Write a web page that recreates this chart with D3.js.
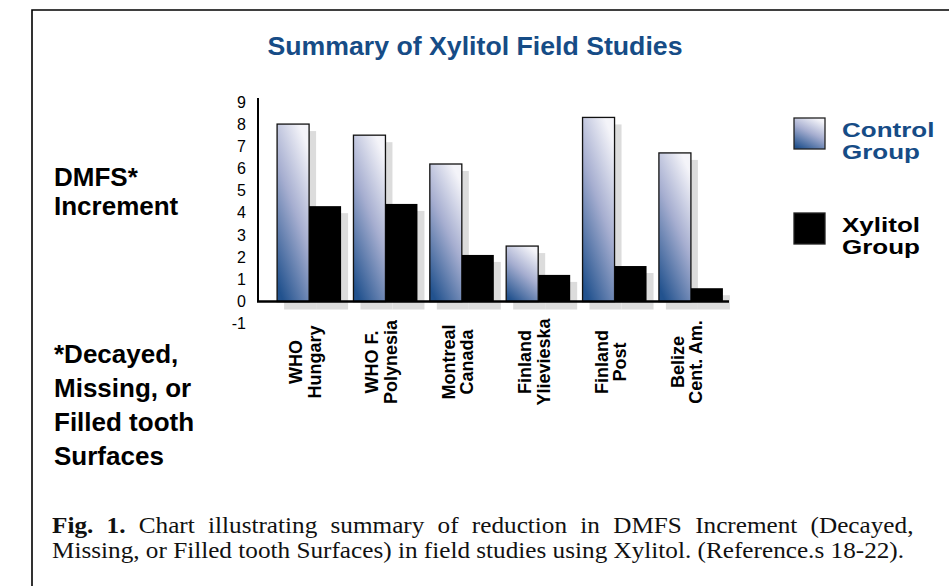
<!DOCTYPE html>
<html>
<head>
<meta charset="utf-8">
<script src="https://cdn.jsdelivr.net/npm/d3@7"></script>
<style>
body { margin: 0; background: #fff; }
#chart { position: relative; width: 949px; height: 586px; overflow: hidden; }
#caption {
    position: absolute; left: 52px; top: 513px; width: 786px;
    transform: scale(1.096, 1); transform-origin: 0 0;
    font-family: "Liberation Serif", "Times New Roman", serif;
    font-size: 23px; line-height: 25px; color: #111;
}
#caption .l1 { text-align: justify; text-align-last: justify; white-space: nowrap; }
#caption .l2 { text-align: left; white-space: nowrap; }
</style>
</head>
<body>
<div id="chart"></div>
<script>
// values
var studies = ["WHO Hungary", "WHO F. Polynesia", "Montreal Canada", "Finland Ylievieska", "Finland Post", "Belize Cent. Am."];
var studyLines = [["WHO", "Hungary"], ["WHO F.", "Polynesia"], ["Montreal", "Canada"], ["Finland", "Ylievieska"], ["Finland", "Post"], ["Belize", "Cent. Am."]];
var controlValues = [8.0, 7.5, 6.2, 2.5, 8.3, 6.7];
var xylitolValues = [4.3, 4.4, 2.1, 1.2, 1.6, 0.6];
var groups = ["control", "xylitol"];
var yTicks = [-1, 0, 1, 2, 3, 4, 5, 6, 7, 8, 9];
var legendItems = [["Control", "Group"], ["Xylitol", "Group"]];
var leftNote1 = ["DMFS*", "Increment"];
var leftNote2 = ["*Decayed,", "Missing, or", "Filled tooth", "Surfaces"];
var captionLine1 = "Chart illustrating summary of reduction in DMFS Increment (Decayed,";
var captionLine2 = "Missing, or Filled tooth Surfaces) in field studies using Xylitol. (Reference.s 18-22).";

var w = 949;
var h = 586;
var blue = "#164c86";

var svg = d3.select("div#chart")
    .append("svg")
    .attr("width", w)
    .attr("height", h)
    .style("position", "absolute")
    .style("left", 0)
    .style("top", 0);

svg.append("rect").attr("width", w).attr("height", h).attr("fill", "#fff");

// frame (left + top edge of the figure box)
svg.append("path")
    .attr("d", "M32," + h + "V10H" + w)
    .attr("fill", "none")
    .attr("stroke", "#000")
    .attr("stroke-width", 1.6);

var defs = svg.append("defs");
var grad = defs.append("linearGradient")
    .attr("id", "ctrlGrad")
    .attr("x1", 0.7).attr("y1", 0)
    .attr("x2", 0.2).attr("y2", 1);
grad.append("stop").attr("offset", "0%").attr("stop-color", "#f4f4f9");
grad.append("stop").attr("offset", "45%").attr("stop-color", "#a6aed0");
grad.append("stop").attr("offset", "100%").attr("stop-color", "#22528e");

var y = d3.scaleLinear().domain([-1, 9]).range([323.7, 101.9]);

var x0 = d3.scaleBand()
    .domain(studies)
    .range([258, 742])
    .paddingInner(0.162)
    .paddingOuter(0.25);

var x1 = d3.scaleBand()
    .domain(groups)
    .range([0, x0.bandwidth()]);

var rows = studies.map(function(s, i){
    return {study: s, lines: studyLines[i], vals: [
        {g: "control", v: controlValues[i]},
        {g: "xylitol", v: xylitolValues[i]}
    ]};
});

// title
svg.append("text")
    .attr("x", 475)
    .attr("y", 55)
    .attr("text-anchor", "middle")
    .attr("textLength", 415)
    .attr("lengthAdjust", "spacingAndGlyphs")
    .style("font-family", "Arial, 'Liberation Sans', sans-serif")
    .style("font-weight", "bold")
    .style("font-size", "25.5px")
    .attr("fill", blue)
    .text("Summary of Xylitol Field Studies");

var groupSel = svg.selectAll("g.study")
    .data(rows)
    .enter()
    .append("g")
    .attr("class", "study")
    .attr("transform", function(d){ return "translate(" + x0(d.study) + ",0)"; });

// drop shadows
groupSel.selectAll("rect.shadow")
    .data(function(d){ return d.vals; })
    .enter()
    .append("rect")
    .attr("class", "shadow")
    .attr("x", function(d){ return x1(d.g) + 7; })
    .attr("y", function(d){ return y(d.v) + 7; })
    .attr("width", x1.bandwidth())
    .attr("height", function(d){ return y(0) - y(d.v) + 1; })
    .attr("fill", "#dcdcdc");

// bars
groupSel.selectAll("rect.bar")
    .data(function(d){ return d.vals; })
    .enter()
    .append("rect")
    .attr("class", "bar")
    .attr("x", function(d){ return x1(d.g); })
    .attr("y", function(d){ return y(d.v); })
    .attr("width", x1.bandwidth())
    .attr("height", function(d){ return y(0) - y(d.v); })
    .attr("fill", function(d){ return d.g == "control" ? "url(#ctrlGrad)" : "#000"; })
    .attr("stroke", function(d){ return d.g == "control" ? "#111" : "none"; })
    .attr("stroke-width", 1.3);

// y axis (plain hyphen for -1, like the original)
var yAxis = d3.axisLeft(y)
    .tickValues(yTicks)
    .tickSize(0)
    .tickPadding(12)
    .tickFormat(function(d){ return String(d); });
var yg = svg.append("g")
    .attr("transform", "translate(258,0)")
    .call(yAxis);
yg.select(".domain").remove();
yg.selectAll("text")
    .style("font-family", "Arial, 'Liberation Sans', sans-serif")
    .style("font-size", "16px")
    .attr("fill", "#000");

svg.append("line")
    .attr("x1", 258).attr("x2", 258)
    .attr("y1", y(9) - 4).attr("y2", y(0))
    .attr("stroke", "#000").attr("stroke-width", 2);

svg.append("line")
    .attr("x1", 257).attr("x2", 729)
    .attr("y1", y(0)).attr("y2", y(0))
    .attr("stroke", "#000").attr("stroke-width", 2.4);

// category labels, rotated
var catLabel = svg.selectAll("text.cat")
    .data(rows)
    .enter()
    .append("text")
    .attr("class", "cat")
    .attr("transform", function(d){
        return "translate(" + (x0(d.study) + x0.bandwidth() / 2) + ",362) rotate(-90)";
    })
    .attr("text-anchor", "middle")
    .style("font-family", "Arial, 'Liberation Sans', sans-serif")
    .style("font-weight", "bold")
    .style("font-size", "18px");

catLabel.selectAll("tspan")
    .data(function(d){ return d.lines; })
    .enter()
    .append("tspan")
    .attr("x", 0)
    .attr("y", function(d, i){ return i == 0 ? -7 : 11.5; })
    .text(function(d){ return d; });

// left notes
svg.selectAll("text.note1")
    .data(leftNote1)
    .enter()
    .append("text")
    .attr("class", "note1")
    .attr("x", 54)
    .attr("y", function(d, i){ return 186 + i * 29; })
    .style("font-family", "Arial, 'Liberation Sans', sans-serif")
    .style("font-weight", "bold")
    .style("font-size", "26px")
    .text(function(d){ return d; });

svg.selectAll("text.note2")
    .data(leftNote2)
    .enter()
    .append("text")
    .attr("class", "note2")
    .attr("x", 54)
    .attr("y", function(d, i){ return 363 + i * 34; })
    .style("font-family", "Arial, 'Liberation Sans', sans-serif")
    .style("font-weight", "bold")
    .style("font-size", "26px")
    .text(function(d){ return d; });

// legend
var legend = svg.selectAll("g.legend")
    .data(groups)
    .enter()
    .append("g")
    .attr("class", "legend")
    .attr("transform", function(d, i){ return "translate(794," + (118 + i * 95) + ")"; });

legend.append("rect")
    .attr("width", 31)
    .attr("height", 31)
    .attr("fill", function(d){ return d == "control" ? "url(#ctrlGrad)" : "#000"; })
    .attr("stroke", "#222")
    .attr("stroke-width", 1.3);

legend.append("text")
    .attr("transform", "translate(48,0) scale(1.3,1)")
    .style("font-family", "Arial, 'Liberation Sans', sans-serif")
    .style("font-weight", "bold")
    .style("font-size", "20px")
    .attr("fill", function(d){ return d == "control" ? blue : "#000"; })
    .selectAll("tspan")
    .data(function(d, i){ return legendItems[i]; })
    .enter()
    .append("tspan")
    .attr("x", 0)
    .attr("y", function(d, i){ return 19 + i * 22; })
    .text(function(d){ return d; });

// caption, two lines, the first one justified
var cap = d3.select("div#chart").append("div").attr("id", "caption");
var l1 = cap.append("div").attr("class", "l1");
l1.append("b").text("Fig. 1.");
l1.append("span").text(" " + captionLine1);
cap.append("div").attr("class", "l2").text(captionLine2);
</script>
</body>
</html>
